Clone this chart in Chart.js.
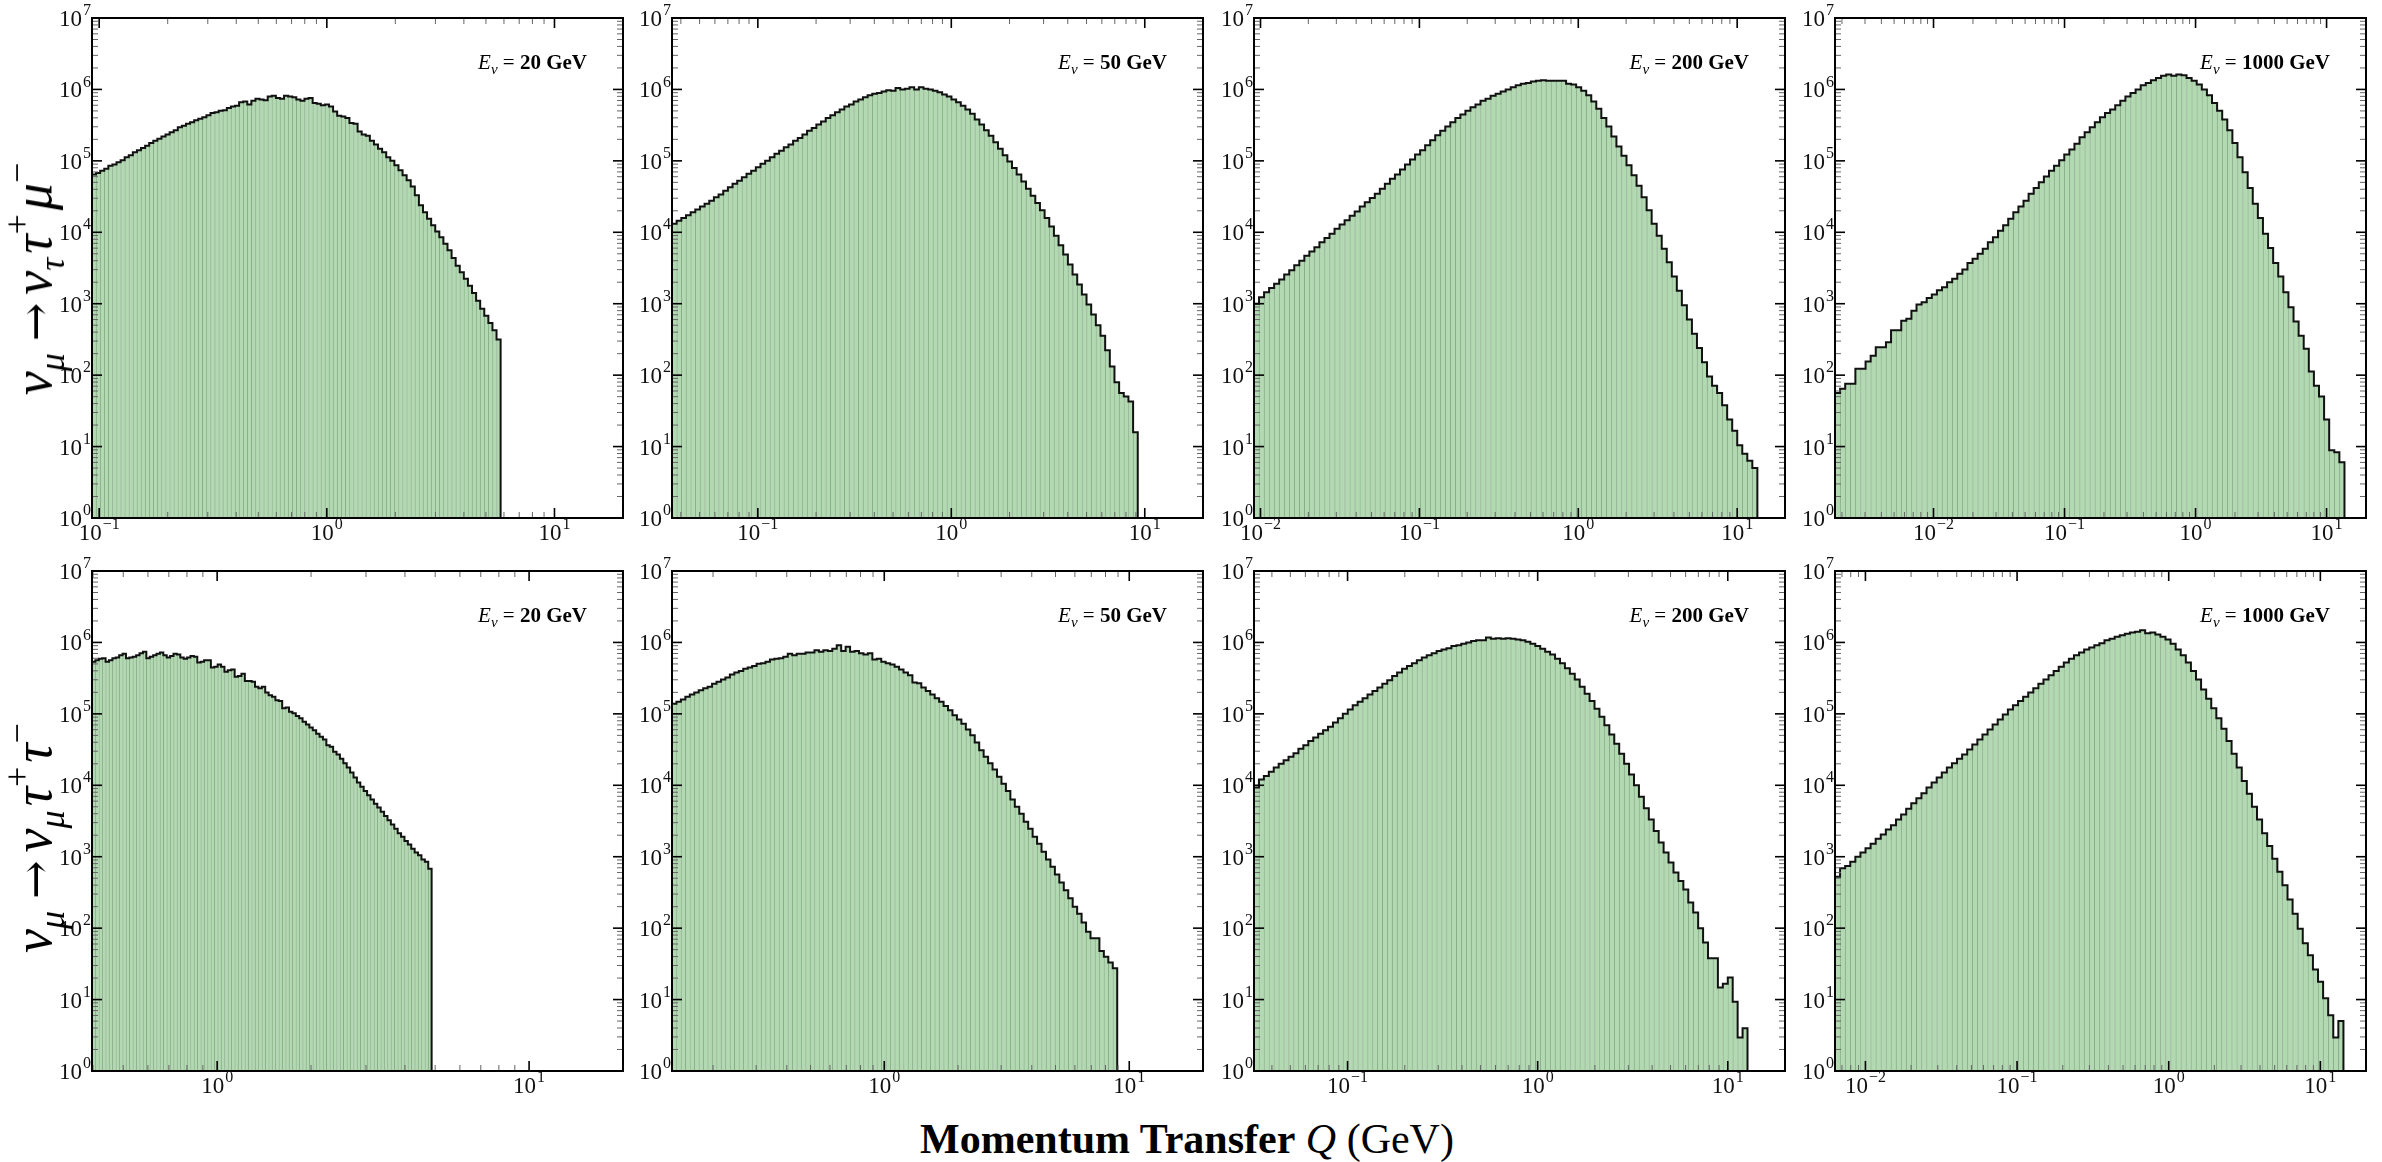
<!DOCTYPE html>
<html>
<head>
<meta charset="utf-8">
<script src="https://cdn.jsdelivr.net/npm/chart.js@4.4.1/dist/chart.umd.min.js"></script>
<style>
  body { margin: 0; background: #fff; }
  #page { position: relative; width: 2382px; height: 1162px; overflow: hidden; font-family: "Liberation Serif", serif; color: #000; }
  #page canvas { position: absolute; }
  .energy { position: absolute; font-size: 21px; line-height: 21px; white-space: nowrap; }
  .energy .sub { font-size: 15px; position: relative; top: 5px; font-style: italic; }
  .rowlab { position: absolute; font-size: 54px; line-height: 54px; white-space: nowrap; transform: translate(-50%, -50%) rotate(-90deg); }
  .rowlab .sub, .rowlab .sup { font-size: 36px; position: relative; margin-right: 4px; }
  .rowlab .sub { top: 13px; }
  .rowlab .sup { top: -22px; }
  .rowlab .arrow { font-family: "DejaVu Serif", serif; font-size: 46px; margin: 0 8px; }
  .xtitle { position: absolute; font-size: 42px; line-height: 42px; white-space: nowrap; transform: translateX(-50%); }
</style>
</head>
<body>
<div id="page"></div>
<script>
// beam energies (GeV), one column each
const energies = [20, 50, 200, 1000];

// first and last bin edge of each histogram (GeV); 100 log-spaced bins
const tauMuRange  = [[0.093, 5.8], [0.036, 9.2], [0.0091, 13.4], [0.00177, 13.7]];
const tauTauRange = [[0.397, 4.87], [0.136, 8.93], [0.0322, 12.7], [0.0063, 14.2]];
const xMax = 20;

// log10(events per bin), nu_mu -> nu_tau tau+ mu-
const tauMu20 = [
  4.81,4.83,4.86,4.89,4.93,4.95,4.98,5.01,5.05,5.08,
  5.12,5.15,5.18,5.21,5.25,5.28,5.31,5.34,5.37,5.40,
  5.43,5.47,5.49,5.52,5.54,5.57,5.59,5.61,5.64,5.67,
  5.68,5.70,5.71,5.74,5.76,5.77,5.82,5.83,5.79,5.84,
  5.87,5.86,5.85,5.90,5.91,5.88,5.87,5.91,5.90,5.89,
  5.86,5.84,5.87,5.88,5.81,5.80,5.78,5.79,5.76,5.69,
  5.63,5.62,5.60,5.53,5.52,5.41,5.37,5.35,5.28,5.23,
  5.17,5.12,5.05,5.00,4.94,4.87,4.80,4.73,4.64,4.52,
  4.38,4.28,4.19,4.10,4.01,3.93,3.84,3.75,3.64,3.53,
  3.44,3.35,3.25,3.15,3.04,2.93,2.83,2.73,2.63,2.50];
const tauMu50 = [
  4.12,4.16,4.20,4.24,4.28,4.32,4.36,4.40,4.44,4.49,
  4.53,4.58,4.63,4.68,4.72,4.77,4.82,4.86,4.91,4.96,
  5.00,5.05,5.10,5.14,5.19,5.23,5.28,5.32,5.37,5.42,
  5.46,5.51,5.55,5.60,5.64,5.68,5.72,5.76,5.79,5.83,
  5.86,5.89,5.92,5.94,5.95,5.97,5.99,5.98,6.02,6.00,
  6.01,6.03,6.00,6.03,6.01,6.00,5.98,5.96,5.93,5.90,
  5.86,5.82,5.77,5.72,5.66,5.58,5.51,5.43,5.35,5.26,
  5.17,5.08,4.99,4.90,4.81,4.71,4.61,4.51,4.41,4.31,
  4.20,4.08,3.95,3.82,3.69,3.55,3.41,3.27,3.13,2.99,
  2.85,2.70,2.55,2.35,2.12,1.90,1.75,1.70,1.63,1.20];
const tauMu200 = [
  3.00,3.09,3.16,3.22,3.28,3.34,3.41,3.47,3.54,3.60,
  3.67,3.73,3.79,3.86,3.92,3.98,4.05,4.11,4.17,4.23,
  4.29,4.36,4.42,4.48,4.54,4.61,4.68,4.75,4.81,4.88,
  4.95,5.02,5.09,5.15,5.22,5.29,5.36,5.42,5.48,5.54,
  5.60,5.65,5.70,5.75,5.79,5.84,5.87,5.91,5.94,5.97,
  6.00,6.03,6.06,6.08,6.09,6.11,6.12,6.13,6.12,6.12,
  6.12,6.12,6.08,6.07,6.03,5.98,5.92,5.83,5.73,5.60,
  5.48,5.34,5.20,5.07,4.94,4.80,4.65,4.49,4.31,4.12,
  3.95,3.77,3.58,3.38,3.18,2.98,2.78,2.58,2.38,2.18,
  1.98,1.85,1.75,1.58,1.38,1.22,1.02,0.90,0.80,0.70];
const tauMu1000 = [
  1.75,1.81,1.88,1.88,2.09,2.09,2.19,2.27,2.39,2.39,
  2.46,2.63,2.63,2.76,2.79,2.90,2.99,3.02,3.08,3.13,
  3.19,3.23,3.30,3.35,3.42,3.48,3.57,3.63,3.70,3.77,
  3.86,3.93,4.02,4.10,4.19,4.28,4.36,4.44,4.54,4.62,
  4.70,4.78,4.86,4.93,5.01,5.09,5.16,5.24,5.33,5.40,
  5.47,5.54,5.61,5.67,5.72,5.78,5.84,5.90,5.95,6.00,
  6.06,6.09,6.13,6.16,6.19,6.21,6.19,6.21,6.20,6.16,
  6.12,6.07,6.00,5.92,5.81,5.70,5.58,5.43,5.25,5.05,
  4.84,4.62,4.40,4.20,3.98,3.78,3.57,3.38,3.16,2.95,
  2.75,2.55,2.37,2.05,1.85,1.70,1.38,0.95,0.92,0.78];

// log10(events per bin), nu_mu -> nu_mu tau+ tau-
const tauTau20 = [
  5.73,5.75,5.77,5.78,5.73,5.75,5.78,5.79,5.82,5.84,
  5.78,5.79,5.80,5.82,5.85,5.87,5.78,5.80,5.82,5.84,
  5.86,5.82,5.79,5.81,5.84,5.83,5.79,5.77,5.79,5.81,
  5.80,5.72,5.73,5.75,5.75,5.65,5.66,5.69,5.66,5.59,
  5.61,5.62,5.52,5.53,5.56,5.46,5.46,5.45,5.38,5.36,
  5.38,5.30,5.26,5.24,5.19,5.18,5.08,5.09,5.03,5.01,
  4.97,4.94,4.89,4.85,4.81,4.77,4.72,4.68,4.64,4.56,
  4.54,4.47,4.43,4.37,4.31,4.25,4.18,4.11,4.04,3.98,
  3.92,3.86,3.80,3.74,3.69,3.63,3.57,3.51,3.45,3.39,
  3.33,3.28,3.22,3.17,3.11,3.06,3.02,2.96,2.93,2.83];
const tauTau50 = [
  5.14,5.17,5.20,5.24,5.27,5.30,5.33,5.36,5.38,5.42,
  5.45,5.48,5.51,5.55,5.58,5.60,5.63,5.65,5.67,5.70,
  5.71,5.73,5.76,5.77,5.78,5.80,5.84,5.82,5.84,5.84,
  5.86,5.86,5.89,5.87,5.89,5.88,5.91,5.96,5.88,5.94,
  5.87,5.88,5.85,5.83,5.85,5.76,5.77,5.73,5.71,5.69,
  5.66,5.62,5.58,5.54,5.44,5.43,5.37,5.32,5.27,5.22,
  5.17,5.11,5.05,4.98,4.92,4.86,4.78,4.70,4.60,4.49,
  4.40,4.31,4.22,4.12,4.02,3.92,3.80,3.70,3.60,3.49,
  3.39,3.28,3.18,3.07,2.96,2.86,2.75,2.64,2.53,2.42,
  2.30,2.20,2.08,1.95,1.86,1.86,1.68,1.60,1.52,1.44];
const tauTau200 = [
  3.97,4.08,4.13,4.19,4.25,4.30,4.35,4.40,4.45,4.51,
  4.56,4.62,4.67,4.72,4.77,4.82,4.88,4.94,5.00,5.06,
  5.12,5.17,5.22,5.27,5.32,5.37,5.42,5.47,5.53,5.58,
  5.63,5.67,5.71,5.75,5.79,5.82,5.85,5.88,5.90,5.92,
  5.95,5.96,5.98,6.00,6.02,6.03,6.03,6.07,6.05,6.06,
  6.05,6.06,6.05,6.04,6.03,6.01,5.98,5.95,5.91,5.87,
  5.83,5.77,5.71,5.64,5.56,5.48,5.38,5.28,5.18,5.07,
  4.96,4.84,4.71,4.58,4.44,4.30,4.15,4.00,3.84,3.68,
  3.52,3.36,3.20,3.06,2.92,2.78,2.66,2.54,2.36,2.22,
  2.00,1.80,1.58,1.58,1.17,1.22,1.31,0.97,0.47,0.60];
const tauTau1000 = [
  2.72,2.84,2.87,2.93,3.00,3.06,3.12,3.18,3.25,3.31,
  3.38,3.44,3.52,3.59,3.67,3.75,3.82,3.89,3.97,4.04,
  4.11,4.18,4.25,4.31,4.37,4.43,4.50,4.57,4.64,4.71,
  4.78,4.85,4.92,4.99,5.06,5.12,5.18,5.24,5.30,5.36,
  5.42,5.48,5.54,5.60,5.66,5.72,5.77,5.82,5.86,5.90,
  5.93,5.96,5.99,6.03,6.05,6.08,6.10,6.12,6.14,6.15,
  6.17,6.13,6.14,6.11,6.08,6.04,5.98,5.90,5.82,5.72,
  5.60,5.48,5.34,5.21,5.08,4.94,4.79,4.62,4.44,4.25,
  4.06,3.88,3.70,3.52,3.33,3.15,2.97,2.79,2.60,2.40,
  2.20,1.99,1.79,1.62,1.42,1.25,1.02,0.78,0.47,0.70];

const tauMuRows = [tauMu20, tauMu50, tauMu200, tauMu1000];
const tauTauRows = [tauTau20, tauTau50, tauTau200, tauTau1000];

// panel geometry
const colLeft = [92, 672, 1254, 1835];
const rowTop = [18, 571];
const plotW = 531, plotH = 500;
const pad = {left: 75, top: 22, right: 20, bottom: 40};

const page = document.getElementById('page');
const serif = '"Liberation Serif", serif';

// log-spaced tick values inside a scale's range
let logTicks = function(scale) {
  let out = [];
  let d0 = Math.floor(Math.log10(scale.min)) - 1;
  let d1 = Math.ceil(Math.log10(scale.max));
  for (let d = d0; d <= d1; d++) {
    for (let k = 1; k <= 9; k++) {
      let v = k * Math.pow(10, d);
      if (v >= scale.min * 0.9999 && v <= scale.max * 1.0001) out.push({v: v, major: k == 1, exp: d});
    }
  }
  return out;
};

// "10" with a raised exponent
let powerLabel = function(ctx, exp, x, y, align) {
  let base = '10';
  let sup = exp < 0 ? '\u2212' + (-exp) : String(exp);
  ctx.font = '23px ' + serif;
  let wb = ctx.measureText(base).width;
  ctx.font = '16px ' + serif;
  let ws = ctx.measureText(sup).width;
  let total = wb + 1 + ws;
  let left = align == 'right' ? x - total : x - total / 2;
  ctx.textAlign = 'left';
  ctx.textBaseline = 'middle';
  ctx.font = '23px ' + serif;
  ctx.fillText(base, left, y);
  ctx.font = '16px ' + serif;
  ctx.fillText(sup, left + wb + 1, y - 9);
};

// inward ticks on all four sides, frame and decade labels
const frameAndTicks = {
  id: 'frameAndTicks',
  afterDraw(chart) {
    let ctx = chart.ctx;
    let a = chart.chartArea;
    let xs = chart.scales.x, ys = chart.scales.y;
    ctx.save();
    let seg = function(x0, y0, x1, y1) { ctx.beginPath(); ctx.moveTo(x0, y0); ctx.lineTo(x1, y1); ctx.stroke(); };

    logTicks(xs).forEach(function(t) {
      let px = xs.getPixelForValue(t.v);
      let len = t.major ? 10 : 6;
      ctx.strokeStyle = t.major ? '#000' : '#666';
      ctx.lineWidth = t.major ? 1.6 : 1;
      seg(px, a.bottom, px, a.bottom - len);
      seg(px, a.top, px, a.top + len);
    });
    logTicks(ys).forEach(function(t) {
      let py = ys.getPixelForValue(t.v);
      let len = t.major ? 10 : 6;
      ctx.strokeStyle = t.major ? '#000' : '#666';
      ctx.lineWidth = t.major ? 1.6 : 1;
      seg(a.left, py, a.left + len, py);
      seg(a.right, py, a.right - len, py);
    });

    ctx.strokeStyle = '#000';
    ctx.lineWidth = 2;
    ctx.strokeRect(a.left, a.top, a.right - a.left, a.bottom - a.top);

    ctx.fillStyle = '#111';
    logTicks(xs).filter(t => t.major).forEach(function(t) {
      powerLabel(ctx, t.exp, xs.getPixelForValue(t.v), a.bottom + 16, 'center');
    });
    logTicks(ys).filter(t => t.major).forEach(function(t) {
      powerLabel(ctx, t.exp, a.left - 1, ys.getPixelForValue(t.v) + 2, 'right');
    });
    ctx.restore();
  }
};

let drawPanel = function(counts, range, left, top, energy) {
  let lo = range[0], hi = range[1];
  let n = counts.length;
  let edges = [];
  for (let i = 0; i <= n; i++) edges.push(lo * Math.pow(hi / lo, i / n));

  let bars = counts.map((v, i) => ({x: Math.sqrt(edges[i] * edges[i + 1]), y: Math.pow(10, v)}));
  let outline = [{x: edges[0], y: 1}];
  counts.forEach((v, i) => outline.push({x: edges[i], y: Math.pow(10, v)}));
  outline.push({x: edges[n], y: Math.pow(10, counts[n - 1])});
  outline.push({x: edges[n], y: 1});

  let canvas = document.createElement('canvas');
  canvas.width = plotW + pad.left + pad.right;
  canvas.height = plotH + pad.top + pad.bottom;
  canvas.style.left = (left - pad.left) + 'px';
  canvas.style.top = (top - pad.top) + 'px';
  page.appendChild(canvas);

  new Chart(canvas, {
    type: 'bar',
    data: {
      datasets: [
        {
          type: 'line', data: outline, order: 0,
          borderColor: '#111', borderWidth: 2, pointRadius: 0,
          stepped: 'before', fill: false, borderJoinStyle: 'miter'
        },
        {
          type: 'bar', data: bars, order: 1, base: 1,
          backgroundColor: '#b3d9b3', borderColor: '#89ad89',
          borderWidth: {left: 1, right: 0, top: 0, bottom: 0}, borderSkipped: false,
          barPercentage: 1, categoryPercentage: 1
        }
      ]
    },
    options: {
      responsive: false, animation: false, devicePixelRatio: 1, events: [],
      layout: { padding: pad },
      plugins: { legend: { display: false }, tooltip: { enabled: false } },
      scales: {
        x: { type: 'logarithmic', min: lo, max: xMax, offset: false, display: false, grid: { offset: false } },
        y: { type: 'logarithmic', min: 1, max: 1e7, display: false }
      }
    },
    plugins: [frameAndTicks]
  });

  let lab = document.createElement('div');
  lab.className = 'energy';
  lab.innerHTML = '<i>E</i><span class="sub">\u03bd</span> = <b>' + energy + ' GeV</b>';
  lab.style.right = (2382 - (left + plotW - 36)) + 'px';
  lab.style.top = (top + 34) + 'px';
  page.appendChild(lab);
};

for (let c = 0; c < 4; c++) {
  drawPanel(tauMuRows[c], tauMuRange[c], colLeft[c], rowTop[0], energies[c]);
  drawPanel(tauTauRows[c], tauTauRange[c], colLeft[c], rowTop[1], energies[c]);
}

// row titles and common x title
let addText = function(cls, html, x, y) {
  let d = document.createElement('div');
  d.className = cls;
  d.innerHTML = html;
  d.style.left = x + 'px';
  d.style.top = y + 'px';
  page.appendChild(d);
};
addText('rowlab', '<i>\u03bd</i><span class="sub"><i>\u03bc</i></span><span class="arrow">\u2192</span><i>\u03bd</i><span class="sub"><i>\u03c4</i></span><i>\u03c4</i><span class="sup">+</span><i>\u03bc</i><span class="sup">\u2212</span>', 36, 277);
addText('rowlab', '<i>\u03bd</i><span class="sub"><i>\u03bc</i></span><span class="arrow">\u2192</span><i>\u03bd</i><span class="sub"><i>\u03bc</i></span><i>\u03c4</i><span class="sup">+</span><i>\u03c4</i><span class="sup">\u2212</span>', 36, 836);
addText('xtitle', '<b>Momentum Transfer</b> <i>Q</i> (GeV)', 1187, 1118);
</script>
</body>
</html>
